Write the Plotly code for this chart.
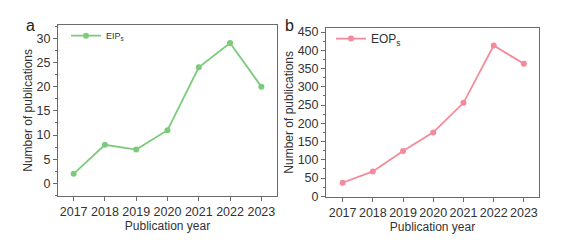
import plotly.graph_objects as go

years = [2017, 2018, 2019, 2020, 2021, 2022, 2023]
eips = [2, 8, 7, 11, 24, 29, 20]
eops = [37, 68, 124, 175, 256, 413, 363]

green = "#7ccb7c"
pink = "#f48a9b"
axcol = "#6a6a6a"
font = "Liberation Sans, Arial, sans-serif"

fig = go.Figure()
fig.add_trace(go.Scatter(x=years, y=eips, mode="lines+markers", name="EIP<sub>s</sub>",
                         line=dict(color=green, width=1.8), marker=dict(color=green, size=6),
                         xaxis="x", yaxis="y", legend="legend"))
fig.add_trace(go.Scatter(x=years, y=eops, mode="lines+markers", name="EOP<sub>s</sub>",
                         line=dict(color=pink, width=1.8), marker=dict(color=pink, size=6),
                         xaxis="x2", yaxis="y2", legend="legend2"))

W, H = 568, 246
def xd(a, b):
    return [a / W, b / W]
def yd(top, bot):
    return [1 - bot / H, 1 - top / H]

common_axis = dict(showline=True, linecolor=axcol, linewidth=1, mirror=True,
                   ticks="outside", ticklen=4, tickcolor=axcol, showgrid=False, zeroline=False,
                   tickfont=dict(family=font, size=12.5, color="#333"),
                   title_font=dict(family=font, size=12, color="#333"))

xcommon = dict(title=dict(text="Publication year", standoff=1))
ycommon = dict(title=dict(text="Number of publications", standoff=1))

fig.update_layout(
    width=W, height=H, margin=dict(l=0, r=0, t=0, b=0),
    paper_bgcolor="white", plot_bgcolor="white",
    showlegend=True,
    xaxis=dict(domain=xd(58, 277), range=[2016.5, 2023.5], tickvals=years, anchor="y",
               **xcommon, **common_axis),
    yaxis=dict(domain=yd(24, 201), range=[-2.5, 32.7], dtick=5, tick0=0, anchor="x",
               minor=dict(dtick=2.5, ticks="outside", ticklen=2, tickcolor=axcol),
               **ycommon, **common_axis),
    xaxis2=dict(domain=xd(326, 539), range=[2016.45, 2023.5], tickvals=years, anchor="y2",
                **xcommon, **common_axis),
    yaxis2=dict(domain=yd(27, 202), range=[-1, 461], dtick=50, tick0=0, anchor="x2",
                minor=dict(dtick=25, ticks="outside", ticklen=2, tickcolor=axcol),
                **ycommon, **common_axis),
    legend=dict(x=66 / W, y=1 - 35 / H, xanchor="left", yanchor="middle",
                bgcolor="rgba(0,0,0,0)", font=dict(family=font, size=9, color="#333"),
                itemwidth=30),
    legend2=dict(x=331 / W, y=1 - 38 / H, xanchor="left", yanchor="middle",
                 bgcolor="rgba(0,0,0,0)", font=dict(family=font, size=12, color="#333"),
                 itemwidth=30),
    annotations=[
        dict(text="a", x=30 / W, y=1 - 24 / H, xref="paper", yref="paper", showarrow=False,
             xanchor="center", yanchor="middle",
             font=dict(family=font, size=16, color="#222")),
        dict(text="b", x=289 / W, y=1 - 24 / H, xref="paper", yref="paper", showarrow=False,
             xanchor="center", yanchor="middle",
             font=dict(family=font, size=16, color="#222")),
    ],
)

fig.write_html("out.html", config={"displayModeBar": False},
               post_script="document.body.style.margin='0';")
